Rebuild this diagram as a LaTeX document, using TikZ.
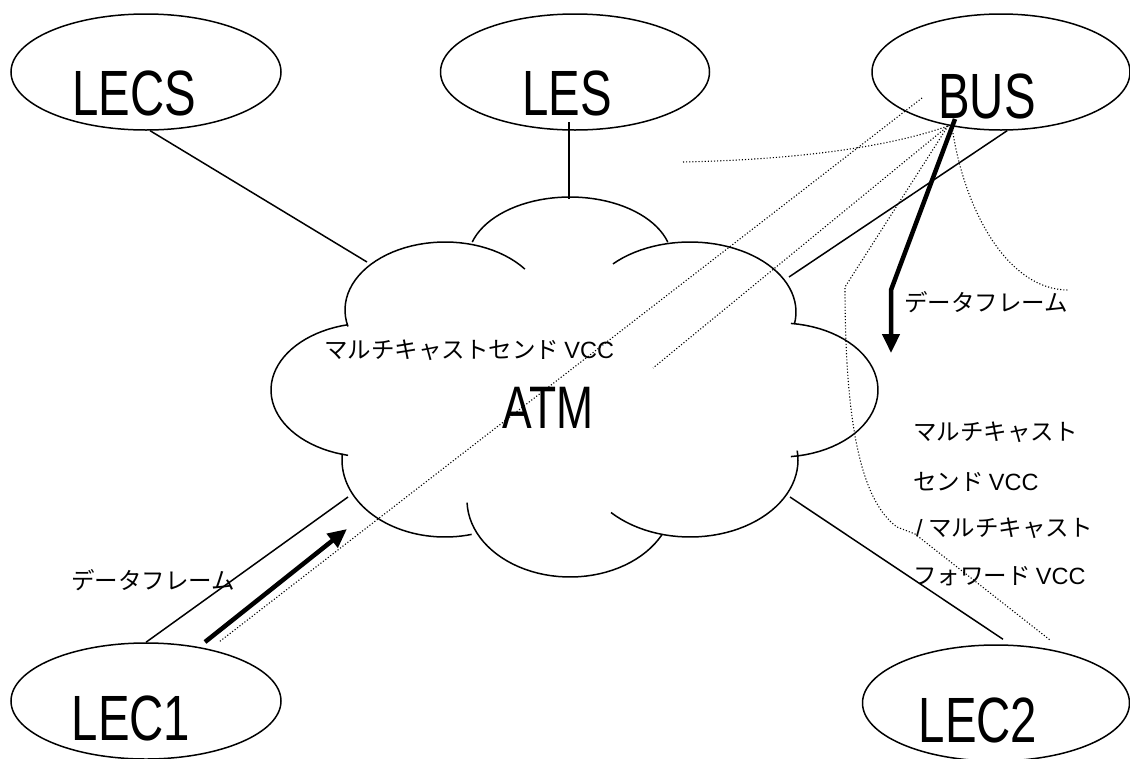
\documentclass[tikz,border=0pt]{standalone}
\usepackage{fontspec}
\setmainfont{Liberation Sans}
\newfontfamily\jfont{Noto Sans CJK JP}
\newfontfamily\lfont{Liberation Sans}
\usetikzlibrary{shapes.geometric,arrows.meta}
\tikzset{
  bubble/.style={draw, ellipse, line width=1.5pt, inner sep=0pt, minimum height=116pt},
  bigtxt/.style={inner sep=0pt, anchor=base, font=\fontsize{64}{64}\selectfont},
  jtxt/.style={inner sep=0pt, anchor=west, font=\jfont\fontsize{23.5}{26}\selectfont},
  conn/.style={line width=1.5pt},
  fatarrow/.style={line width=4.5pt, line join=round, -{Triangle[length=19pt,width=17pt]}},
  dotline/.style={line width=1.1pt, dash pattern=on 1.1pt off 2pt},
  cloudline/.style={line width=1.5pt},
}
\newcommand{\wide}[1]{\scalebox{0.74}[1]{#1}}
\newcommand{\vcc}{{\lfont VCC}}
\begin{document}
\begin{tikzpicture}[x=1pt,y=-1pt]
\useasboundingbox (0,0) rectangle (1130,758);
% ellipses
\node[bubble, minimum width=270pt] (lecs) at (146,72) {};
\node[bubble, minimum width=269pt] (les) at (575,72) {};
\node[bubble, minimum width=258pt] (bus) at (1001,72) {};
\node[bubble, minimum width=270pt] (lec1) at (146,701) {};
\node[bubble, minimum width=267pt] (lec2) at (996,703) {};
% big labels
\node[bigtxt] (lecsT) at (134,115) {\wide{LECS}};
\node[bigtxt] (lesT) at (567,115) {\wide{LES}};
\node[bigtxt] (busT) at (987,118) {\wide{BUS}};
\node[bigtxt, font=\fontsize{60}{60}\selectfont] (atmT) at (548,428) {\wide{ATM}};
\node[bigtxt] (lec1T) at (131,740) {\wide{LEC1}};
\node[bigtxt] (lec2T) at (978,742) {\wide{LEC2}};
% cloud
\draw[cloudline]
  plot[domain=16.6:163.4, samples=40] ({570+102*cos(\x)},{260-63*sin(\x)})
  plot[domain=37:194, samples=40] ({445+100*cos(\x)},{310-68*sin(\x)})
  plot[domain=102.8:257.2, samples=40] ({370+99*cos(\x)},{390-67*sin(\x)})
  plot[domain=175:285, samples=40] ({445+103*cos(\x)},{460-77*sin(\x)})
  plot[domain=182:333, samples=40] ({570+103*cos(\x)},{500-77*sin(\x)})
  plot[domain=223:367, samples=40] ({690+108*cos(\x)},{460-77*sin(\x)})
  plot[domain=-83.6:83.6, samples=40] ({780+98*cos(\x)},{390-67*sin(\x)})
  plot[domain=-10:136.6, samples=40] ({690+106*cos(\x)},{312-70*sin(\x)});
% attachment points on the cloud
\coordinate (cLECS) at (367,262);
\coordinate (cLES) at (569,199);
\coordinate (cBUS) at (789,277);
\coordinate (cLEC1) at (348,497);
\coordinate (cLEC2) at (790,497);
\coordinate (lesFoot) at (569,122);
% solid connectors
\draw[conn] (lecs.-86) -- (cLECS);
\draw[conn] (lesFoot) -- (cLES);
\draw[conn] (bus.-84) -- (cBUS);
\draw[conn] (lec1.north) -- (cLEC1);
\draw[conn] (lec2.north) ++(7,-5) coordinate (lec2Top) -- (cLEC2);
% dotted paths
\coordinate (busHub) at (948,126);
\coordinate (d1s) at (922,98);
\coordinate (d1e) at (219,642);
\coordinate (d2e) at (653,368);
\coordinate (d3s) at (683,162);
\coordinate (d4a) at (845,287);
\coordinate (d4b) at (897,527);
\coordinate (d4c) at (915,534);
\coordinate (d4e) at (1050,640);
\coordinate (d5e) at (1068,290);
\draw[dotline] (d1s) -- (d1e);
\draw[dotline] (busHub) -- (d2e);
\draw[dotline] (d3s) .. controls (780,160) and (880,150) .. (busHub);
\draw[dotline] (busHub) -- (d4a) .. controls (845,420) and (860,500) .. (d4b) -- (d4c) -- (d4e);
\draw[dotline] (952,127) .. controls (965,215) and (1010,290) .. (d5e);
% thick arrows
\coordinate (a1s) at (205,642);
\coordinate (a1e) at (347,529);
\coordinate (a2s) at (955,119);
\coordinate (a2m) at (891,290);
\coordinate (a2e) at (891,353);
\draw[fatarrow] (a1s) -- (a1e);
\draw[fatarrow] (a2s) -- (a2m) -- (a2e);
% Japanese labels
\node[jtxt] (lblSend) at (324,350) {マルチキャストセンド \vcc};
\node[jtxt] (lblFrameR) at (904,302) {データフレーム};
\node[jtxt] (lblFrameL) at (71,580) {データフレーム};
\node[jtxt] (lblR1) at (913,432) {マルチキャスト};
\node[jtxt] (lblR2) at (913,482) {センド \vcc};
\node[jtxt] (lblR3) at (916,528) {{\lfont /} マルチキャスト};
\node[jtxt] (lblR4) at (913,576) {フォワード \vcc};
\end{tikzpicture}
\end{document}
